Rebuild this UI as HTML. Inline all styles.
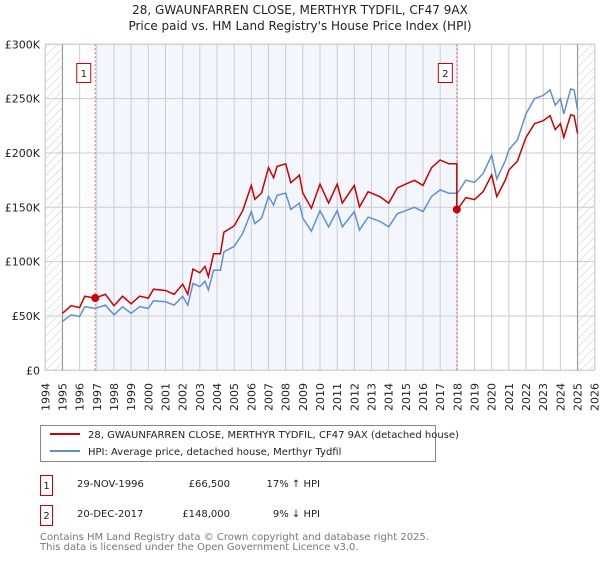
<!DOCTYPE html>
<html><head><meta charset="utf-8">
<style>
body{margin:0;background:#fff;font-family:"DejaVu Sans","Liberation Sans",sans-serif;}
svg text{font-family:"DejaVu Sans","Liberation Sans",sans-serif;}
</style></head>
<body>
<svg id="chart" width="600" height="560" xmlns="http://www.w3.org/2000/svg">
<defs>
<pattern id="hatch" width="6" height="6" patternUnits="userSpaceOnUse" patternTransform="rotate(45)">
<line x1="0" y1="0" x2="0" y2="6" stroke="#ccc" stroke-width="1"/>
</pattern>
</defs>
<text x="300" y="14" text-anchor="middle" font-size="12" fill="#222">28, GWAUNFARREN CLOSE, MERTHYR TYDFIL, CF47 9AX</text>
<text x="300" y="30" text-anchor="middle" font-size="12" fill="#222">Price paid vs. HM Land Registry's House Price Index (HPI)</text>
<g id="plot"></g>
<g>
<rect x="40.5" y="425.5" width="395" height="36" fill="#fff" stroke="#888"/>
<line x1="50" y1="434" x2="80" y2="434" stroke="#cc0000" stroke-width="2"/>
<text x="88" y="438" font-size="10" fill="#222">28, GWAUNFARREN CLOSE, MERTHYR TYDFIL, CF47 9AX (detached house)</text>
<line x1="50" y1="451" x2="80" y2="451" stroke="#6090d0" stroke-width="2"/>
<text x="88" y="455" font-size="10" fill="#222">HPI: Average price, detached house, Merthyr Tydfil</text>
</g>
<g font-size="10" fill="#222">
<rect x="40.5" y="475.5" width="12" height="20" fill="#fff" stroke="#cc0000"/>
<text x="46.5" y="489" text-anchor="middle">1</text>
<text x="77" y="487">29-NOV-1996</text>
<text x="230" y="487" text-anchor="end">£66,500</text>
<text x="320" y="487" text-anchor="end">17% ↑ HPI</text>
<rect x="40.5" y="505.5" width="12" height="20" fill="#fff" stroke="#cc0000"/>
<text x="46.5" y="519" text-anchor="middle">2</text>
<text x="77" y="517">20-DEC-2017</text>
<text x="230" y="517" text-anchor="end">£148,000</text>
<text x="320" y="517" text-anchor="end">9% ↓ HPI</text>
</g>
<text x="40" y="540" font-size="10" fill="#777">Contains HM Land Registry data © Crown copyright and database right 2025.</text>
<text x="40" y="550" font-size="10" fill="#777">This data is licensed under the Open Government Licence v3.0.</text>
</svg>
<script>
const hpiYears=[1995,1995.5,1996,1996.3,1996.9,1997.5,1998,1998.5,1999,1999.5,2000,2000.3,2001,2001.5,2002,2002.3,2002.6,2003,2003.3,2003.5,2003.8,2004.2,2004.4,2005,2005.5,2006,2006.2,2006.6,2007,2007.3,2007.5,2008,2008.3,2008.8,2009,2009.5,2010,2010.5,2011,2011.3,2012,2012.3,2012.8,2013.5,2014,2014.5,2015,2015.5,2016,2016.5,2017,2017.5,2018,2018.5,2019,2019.5,2020,2020.3,2020.8,2021,2021.5,2022,2022.5,2023,2023.4,2023.7,2024,2024.2,2024.6,2024.8,2025];
const hpiValues=[45,51,49.5,58.5,57,60,51,58.5,52.5,58.5,57,64,63,60,68,60,80,77,82,74,92,92,109,114,126,146,135,140,160,152,161,163,148,154,140,128,147,132,147,132,146,129,141,137,132,144,147,150,146,160,166,163,163,175,173,181,198,176,193,203,212,236,250,253,258,244,250,236,259,258,240];
const saleYears=[1996.91,2017.97];
const salePrices=[66.5,148];
const yTicks=[0,50,100,150,200,250,300];
const yTickLabels=["£0","£50K","£100K","£150K","£200K","£250K","£300K"];
const xTicks=[1994,1995,1996,1997,1998,1999,2000,2001,2002,2003,2004,2005,2006,2007,2008,2009,2010,2011,2012,2013,2014,2015,2016,2017,2018,2019,2020,2021,2022,2023,2024,2025,2026];

const L=45.3,R=594.7,T=44.3,B=370.3;
const x=y=>L+(y-1994)/32*(R-L);
const yv=v=>B-v/300*(B-T);
const NS='http://www.w3.org/2000/svg';
const g=document.getElementById('plot');
function mk(t,a){const e=document.createElementNS(NS,t);for(const k in a)e.setAttribute(k,a[k]);g.appendChild(e);return e;}

function hpiAt(t){for(let i=0;i<hpiYears.length-1;i++){if(t<=hpiYears[i+1]){const f=(t-hpiYears[i])/(hpiYears[i+1]-hpiYears[i]);return hpiValues[i]+f*(hpiValues[i+1]-hpiValues[i]);}}return hpiValues[hpiValues.length-1];}

let e=mk('rect',{x:x(saleYears[0]),y:T,width:x(saleYears[1])-x(saleYears[0]),height:B-T,fill:'#eef3fc',opacity:0.7});


e=mk('rect',{x:L,y:T,width:x(1995)-L,height:B-T,fill:'url(#hatch)'});


e=mk('rect',{x:x(2025),y:T,width:R-x(2025),height:B-T,fill:'url(#hatch)'});



xTicks.forEach(t=>{
 e=mk('line',{x1:x(t),x2:x(t),y1:T,y2:B,stroke:'#ccc','stroke-width':1});
 
 
 e=mk('text',{x:0,y:0,transform:`translate(${x(t)+4},383) rotate(-90)`,'text-anchor':'end','font-size':11,fill:'#222'});
 e.textContent=t;
 
 
});
yTicks.forEach((t,i)=>{
 e=mk('line',{x1:L,x2:R,y1:yv(t),y2:yv(t),stroke:'#ccc','stroke-width':1});
 
 
 e=mk('text',{x:40,y:yv(t)+4,'text-anchor':'end','font-size':11,fill:'#222'});
 e.textContent=yTickLabels[i];
 
 
});
e=mk('rect',{x:L,y:T,width:R-L,height:B-T,fill:'none',stroke:'#ccc'});


[1995,2025].forEach(t=>{
 e=mk('line',{x1:x(t),x2:x(t),y1:T,y2:B,stroke:'#999','stroke-width':1.2});
 
 
});
saleYears.forEach((s,i)=>{
 e=mk('line',{x1:x(s),x2:x(s),y1:T,y2:B,stroke:'#ee6666','stroke-width':1,'stroke-dasharray':'2,2'});
 
 
});

// HPI line
let pts=hpiYears.map((t,i)=>x(t).toFixed(1)+','+yv(hpiValues[i]).toFixed(1)).join(' ');
e=mk('polyline',{points:pts,fill:'none',stroke:'#6090d0','stroke-width':1.5});


// property line: HPI scaled to each sale
const r1=salePrices[0]/hpiAt(saleYears[0]), r2=salePrices[1]/hpiAt(saleYears[1]);
let rp=[];
hpiYears.forEach((t,i)=>{if(t<saleYears[1])rp.push([t,hpiValues[i]*r1]);});
rp.push([saleYears[1],hpiAt(saleYears[1])*r1]);
rp.push([saleYears[1],salePrices[1]]);
hpiYears.forEach((t,i)=>{if(t>saleYears[1])rp.push([t,hpiValues[i]*r2]);});
e=mk('polyline',{points:rp.map(p=>x(p[0]).toFixed(1)+','+yv(p[1]).toFixed(1)).join(' '),fill:'none',stroke:'#cc0000','stroke-width':1.5});



saleYears.forEach((s,i)=>{
 e=mk('circle',{cx:x(s),cy:yv(salePrices[i]),r:4,fill:'#cc0000'});
 
 
 e=mk('rect',{x:x(s)-18.5,y:63.5,width:14,height:19,fill:'#fff',stroke:'#cc0000'});
 
 
 e=mk('text',{x:x(s)-11.5,y:77,'text-anchor':'middle','font-size':10,fill:'#222'});
 e.textContent=String(i+1);
 
 
});
</script>
</body></html>
